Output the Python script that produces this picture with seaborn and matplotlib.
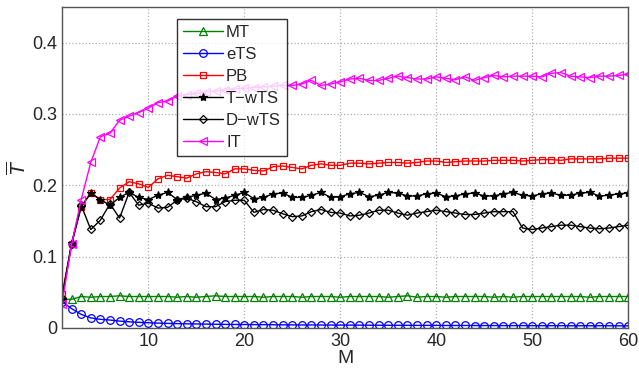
import numpy as np
import pandas as pd
import matplotlib
matplotlib.use("Agg")
import matplotlib.pyplot as plt
import seaborn as sns

M = list(range(1, 61))

MT = [0.040, 0.040, 0.044, 0.043, 0.044, 0.044, 0.045, 0.044, 0.044, 0.044,
      0.044, 0.044, 0.043, 0.044, 0.043, 0.044, 0.045, 0.044, 0.044, 0.044,
      0.044, 0.043, 0.044, 0.044, 0.044, 0.043, 0.044, 0.044, 0.044, 0.043,
      0.044, 0.044, 0.044, 0.044, 0.043, 0.044, 0.045, 0.043, 0.044, 0.044,
      0.043, 0.044, 0.044, 0.044, 0.044, 0.043, 0.044, 0.043, 0.044, 0.044,
      0.044, 0.044, 0.044, 0.044, 0.044, 0.043, 0.044, 0.044, 0.044, 0.044]
eTS = [0.037, 0.027, 0.019, 0.014, 0.012, 0.011, 0.0095, 0.0085, 0.0078, 0.0072,
       0.0067, 0.0063, 0.006, 0.0057, 0.0055, 0.0053, 0.0051, 0.0049, 0.0048, 0.0047,
       0.0046, 0.0045, 0.0044, 0.0043, 0.0042, 0.0041, 0.0041, 0.004, 0.004, 0.0039,
       0.0039, 0.0038, 0.0038, 0.0037, 0.0037, 0.0036, 0.0036, 0.0035, 0.0035, 0.0035,
       0.0034, 0.0034, 0.0034, 0.0033, 0.0033, 0.0033, 0.0032, 0.0032, 0.0032, 0.0031,
       0.0031, 0.0031, 0.0031, 0.003, 0.003, 0.003, 0.003, 0.003, 0.0029, 0.0029]
PB = [0.047, 0.117, 0.170, 0.189, 0.180, 0.180, 0.196, 0.205, 0.202, 0.197,
      0.209, 0.214, 0.212, 0.210, 0.216, 0.219, 0.218, 0.216, 0.223, 0.223,
      0.221, 0.220, 0.226, 0.227, 0.225, 0.223, 0.228, 0.230, 0.228, 0.228,
      0.231, 0.231, 0.230, 0.231, 0.232, 0.232, 0.231, 0.232, 0.234, 0.234,
      0.232, 0.233, 0.234, 0.234, 0.234, 0.235, 0.235, 0.235, 0.234, 0.235,
      0.236, 0.236, 0.235, 0.237, 0.237, 0.237, 0.237, 0.238, 0.238, 0.238]
TwTS = [0.040, 0.119, 0.170, 0.189, 0.180, 0.172, 0.183, 0.190, 0.183, 0.180,
        0.186, 0.190, 0.180, 0.183, 0.186, 0.189, 0.180, 0.182, 0.186, 0.190,
        0.181, 0.183, 0.188, 0.189, 0.183, 0.183, 0.186, 0.190, 0.183, 0.184,
        0.188, 0.190, 0.184, 0.186, 0.190, 0.189, 0.185, 0.185, 0.188, 0.189,
        0.184, 0.185, 0.188, 0.189, 0.185, 0.185, 0.188, 0.190, 0.186, 0.185,
        0.188, 0.189, 0.186, 0.186, 0.189, 0.190, 0.185, 0.186, 0.188, 0.189]
DwTS = [0.042, 0.117, 0.172, 0.138, 0.151, 0.174, 0.154, 0.190, 0.172, 0.175,
        0.168, 0.169, 0.179, 0.182, 0.177, 0.170, 0.170, 0.177, 0.179, 0.179,
        0.162, 0.166, 0.165, 0.160, 0.156, 0.157, 0.163, 0.166, 0.162, 0.161,
        0.157, 0.158, 0.161, 0.165, 0.165, 0.161, 0.158, 0.161, 0.163, 0.165,
        0.163, 0.161, 0.159, 0.159, 0.161, 0.163, 0.163, 0.163, 0.140, 0.138,
        0.140, 0.142, 0.144, 0.144, 0.142, 0.140, 0.139, 0.140, 0.142, 0.144]
IT = [0.033, 0.117, 0.180, 0.232, 0.268, 0.273, 0.291, 0.297, 0.302, 0.308,
      0.316, 0.318, 0.325, 0.327, 0.329, 0.331, 0.332, 0.334, 0.335, 0.336,
      0.337, 0.338, 0.339, 0.340, 0.340, 0.342, 0.347, 0.340, 0.342, 0.345,
      0.349, 0.350, 0.347, 0.347, 0.350, 0.353, 0.351, 0.349, 0.349, 0.352,
      0.350, 0.348, 0.352, 0.347, 0.351, 0.354, 0.352, 0.353, 0.353, 0.353,
      0.352, 0.357, 0.358, 0.353, 0.352, 0.351, 0.353, 0.353, 0.354, 0.356]

labels = ["MT", "eTS", "PB", "T\u2212wTS", "D\u2212wTS", "IT"]
series = [MT, eTS, PB, TwTS, DwTS, IT]
colors = ["#008000", "#0000ff", "#ff0000", "#000000", "#000000", "#ff00ff"]
markers = ["^", "o", "s", "*", "D", "<"]
msizes = [5.5, 5.5, 5, 6, 4.5, 6]

sns.set_style("white")
plt.rcParams['font.family'] = ['Liberation Sans', 'DejaVu Sans']

fig = plt.figure(figsize=(6.39, 3.68), dpi=100)
ax = fig.add_axes([0.097, 0.109, 0.886, 0.872])

for lab, ys, c, mk, ms in zip(labels, series, colors, markers, msizes):
    df = pd.DataFrame({"M": M, "T": ys})
    face = c if mk == "*" else "none"
    sns.lineplot(data=df, x="M", y="T", ax=ax, color=c, marker=mk,
                 markersize=ms, markerfacecolor=face, markeredgecolor=c,
                 markeredgewidth=0.9, linewidth=1.0, label=lab)

ax.set_xlim(1, 60)
ax.set_ylim(0, 0.45)
ax.set_xticks([10, 20, 30, 40, 50, 60])
ax.set_yticks([0, 0.1, 0.2, 0.3, 0.4])
ax.set_yticklabels(["0", "0.1", "0.2", "0.3", "0.4"])
ax.grid(True, linestyle=":", color="#b0b0b0", linewidth=0.9)
ax.tick_params(direction="in", labelsize=13, length=4, color="#333333")
for s in ax.spines.values():
    s.set_color("#555555")
    s.set_linewidth(1.0)
ax.set_xlabel("M", fontsize=14, labelpad=0)
ax.set_ylabel(r"$\overline{T}$", fontsize=14, labelpad=2)

leg = ax.legend(loc="upper left", bbox_to_anchor=(0.203, 0.963), fontsize=12,
                frameon=True, fancybox=False, edgecolor="black",
                handlelength=2.4, handletextpad=0.2, borderpad=0.35,
                labelspacing=0.42, borderaxespad=0)
leg.get_frame().set_linewidth(1.0)

fig.savefig("out.png", dpi=100)
